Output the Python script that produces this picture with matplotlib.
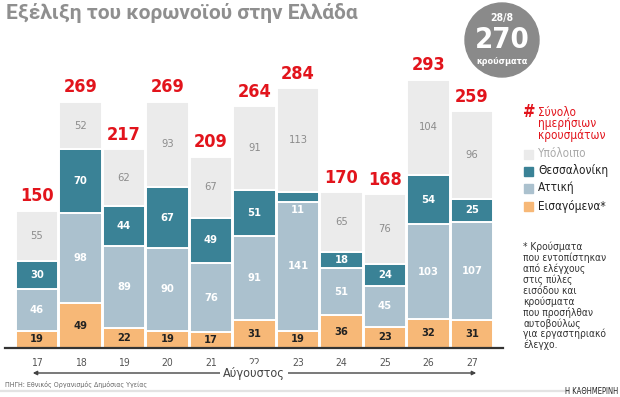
import numpy as np
import matplotlib.pyplot as plt
from matplotlib.patches import Circle, Rectangle
from matplotlib.transforms import IdentityTransform

days = ['17', '18', '19', '20', '21', '22', '23', '24', '25', '26', '27']
imported = [19, 49, 22, 19, 17, 31, 19, 36, 23, 32, 31]
attiki = [46, 98, 89, 90, 76, 91, 141, 51, 45, 103, 107]
thess = [30, 70, 44, 67, 49, 51, 11, 18, 24, 54, 25]
rest = [55, 52, 62, 93, 67, 91, 113, 65, 76, 104, 96]
totals = [150, 269, 217, 269, 209, 264, 284, 170, 168, 293, 259]

legend_labels = ['Υπόλοιπο', 'Θεσσαλονίκη', 'Αττική', 'Εισαγόμενα*']

c_rest = '#ebebeb'
c_thess = '#3a8296'
c_att = '#abc1ce'
c_imp = '#f7b877'
c_red = '#e2141c'

plt.rcParams['font.family'] = ['DejaVu Sans']
plt.rcParams['font.stretch'] = 'condensed'

W, H = 620, 397
fig = plt.figure(figsize=(6.2, 3.97), dpi=100)

# axes placed in pixels: baseline at y=348, left 5, right 503
px_unit = 0.915
base = 348
ax = fig.add_axes([5 / W, (H - base) / H, 498 / W, base / H])
ax.set_xlim((5 - 37) / 43.5, (503 - 37) / 43.5)
ax.set_ylim(0, base / px_unit)

x = np.arange(len(days))
b1 = np.array(imported)
b2 = b1 + np.array(attiki)
b3 = b2 + np.array(thess)
kw = dict(width=0.985, edgecolor='white', linewidth=1.4)
ax.bar(x, imported, color=c_imp, **kw)
ax.bar(x, attiki, bottom=b1, color=c_att, **kw)
ax.bar(x, thess, bottom=b2, color=c_thess, **kw)
ax.bar(x, rest, bottom=b3, color=c_rest, **kw)

lab = dict(ha='center', va='center', fontsize=8, fontweight='bold')
for i in range(len(days)):
    ax.text(i, imported[i] / 2, str(imported[i]), color='#222222', **lab)
    ax.text(i, b1[i] + attiki[i] / 2, str(attiki[i]), color='white', **lab)
    if thess[i] < 15:
        ax.text(i, b2[i] - 9, str(thess[i]), color='white', **lab)
    else:
        ax.text(i, b2[i] + thess[i] / 2, str(thess[i]), color='white', **lab)
    ax.text(i, b3[i] + rest[i] / 2, str(rest[i]), color='#8c8c8c',
            ha='center', va='center', fontsize=8)
    ax.text(i, totals[i] + 6, str(totals[i]), color=c_red, ha='center', va='bottom',
            fontsize=13, fontweight='bold')

for s in ['top', 'right', 'left']:
    ax.spines[s].set_visible(False)
ax.spines['bottom'].set_color('#333333')
ax.spines['bottom'].set_linewidth(1.6)
ax.set_yticks([])
ax.set_xticks(x)
ax.set_xticklabels(days, fontsize=7.5, color='#555555')
ax.tick_params(axis='x', length=0, pad=7)


def fx(px):
    return px / W


def fy(py):
    return 1 - py / H


# title
fig.text(fx(6), fy(13), 'Εξέλιξη του κορωνοϊού στην Ελλάδα', fontsize=15,
         fontweight='bold', color='#8f8f8f', va='center', ha='left',
         family=['Roboto', 'DejaVu Sans'], stretch='normal')

# badge
fig.add_artist(Circle((502, H - 40), 37, transform=IdentityTransform(),
                      color='#8a8a8a', zorder=5))
fig.text(fx(502), fy(18), '28/8', color='white', ha='center', va='center',
         fontsize=7.5, fontweight='bold', zorder=6)
fig.text(fx(502), fy(40), '270', color='white', ha='center', va='center',
         fontsize=21, fontweight='bold', zorder=6)
fig.text(fx(502), fy(61), 'κρούσματα', color='white', ha='center', va='center',
         fontsize=6.5, fontweight='bold', zorder=6)

# legend
fig.text(fx(523), fy(112), '#', color=c_red, fontsize=12, fontweight='bold',
         va='center', ha='left')
for k, t in enumerate(['Σύνολο', 'ημερήσιων', 'κρουσμάτων']):
    fig.text(fx(538), fy(112 + 11.5 * k), t, color=c_red, fontsize=8.5,
             va='center', ha='left')
leg_y = [154, 171, 188, 206]
leg_c = [c_rest, c_thess, c_att, c_imp]
leg_tc = ['#aaaaaa', '#222222', '#222222', '#222222']
for k in range(4):
    fig.add_artist(Rectangle((524, H - leg_y[k] - 4.5), 9, 9,
                             transform=IdentityTransform(), color=leg_c[k]))
    fig.text(fx(538), fy(leg_y[k]), legend_labels[k], color=leg_tc[k],
             fontsize=8.5, va='center', ha='left')

# footnote
note = ['* Κρούσματα', 'που εντοπίστηκαν', 'από ελέγχους', 'στις πύλες',
        'εισόδου και', 'κρούσματα', 'που προσήλθαν', 'αυτοβούλως',
        'για εργαστηριακό', 'έλεγχο.']
for k, t in enumerate(note):
    fig.text(fx(523), fy(247 + 10.9 * k), t, color='#333333', fontsize=7.3,
             va='center', ha='left')

# month arrow
ax.annotate('', xy=(fx(30), fy(373)), xytext=(fx(479), fy(373)),
            xycoords='figure fraction', textcoords='figure fraction',
            arrowprops=dict(arrowstyle='<|-|>', color='#444444', lw=1,
                            mutation_scale=6), annotation_clip=False)
fig.text(fx(254), fy(373), 'Αύγουστος', color='#444444', fontsize=9,
         ha='center', va='center',
         bbox=dict(facecolor='white', edgecolor='none', pad=2))

# source and footer
fig.text(fx(5), fy(385), 'ΠΗΓΗ: Εθνικός Οργανισμός Δημόσιας Υγείας', color='#666666',
         fontsize=5, va='center', ha='left')
fig.add_artist(plt.Line2D([0, fx(568)], [fy(391), fy(391)], color='#e3e3e3', lw=1.6))
fig.text(fx(618), fy(391), 'Η ΚΑΘΗΜΕΡΙΝΗ', color='#222222', fontsize=5.5,
         va='center', ha='right')

fig.savefig('out.png', dpi=100)
